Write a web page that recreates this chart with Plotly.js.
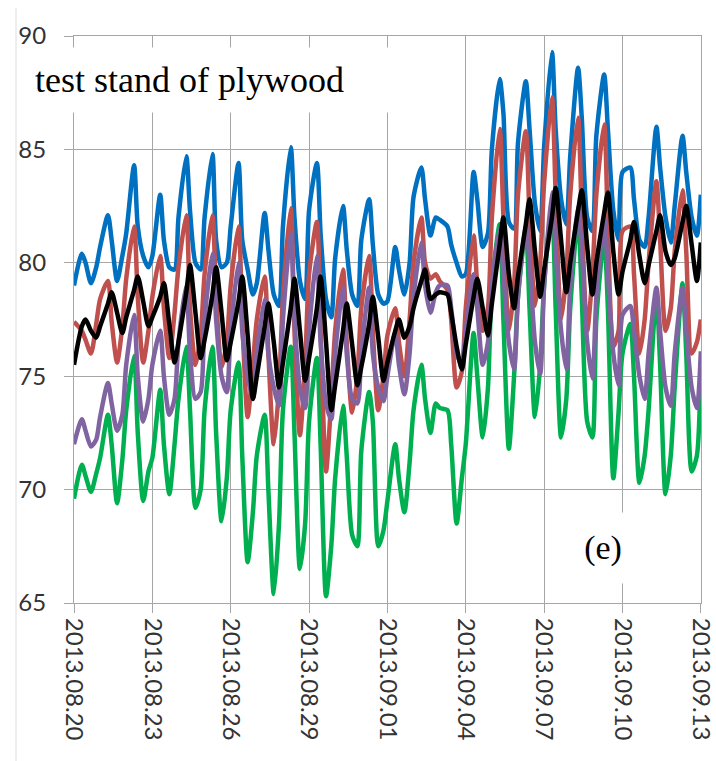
<!DOCTYPE html>
<html>
<head>
<meta charset="utf-8">
<script src="https://cdn.plot.ly/plotly-3.0.1.min.js"></script>
<style>
html, body { margin: 0; padding: 0; background: #fff; }
#chart { width: 716px; height: 761px; }
</style>
</head>
<body>
<div id="chart"></div>
<script>
// ---- data ----
// Each day is sampled at these hours; values are listed day by day.
const START_UTC = Date.UTC(2013, 7, 20);
const SAMPLE_HOURS = [0, 7.2, 10.6, 15.6, 20.4];

const TICK_DATES = ['2013-08-20', '2013-08-23', '2013-08-26', '2013-08-29', '2013-09-01',
                    '2013-09-04', '2013-09-07', '2013-09-10', '2013-09-13'];
const TICK_LABELS = ['2013.08.20', '2013.08.23', '2013.08.26', '2013.08.29', '2013.09.01',
                     '2013.09.04', '2013.09.07', '2013.09.10', '2013.09.13'];
const X_RANGE = ['2013-08-20 00:00', '2013-09-13 00:10'];
const Y_TICKS = [65, 70, 75, 80, 85, 90];

const blueSeries = [
  79.0, 80.4, 80.0, 79.1, 79.8,
  80.7, 82.1, 81.0, 79.2, 80.3,
  81.3, 84.3, 81.6, 80.3, 79.8,
  80.3, 83.0, 81.0, 79.8, 79.7,
  82.0, 84.7, 82.3, 80.0, 79.7,
  82.0, 84.8, 81.0, 79.8, 80.0,
  81.6, 84.4, 81.0, 79.7, 78.6,
  79.1, 82.2, 80.6, 78.6, 78.1,
  81.6, 85.1, 82.0, 79.2, 78.4,
  82.3, 84.4, 81.3, 78.4, 77.6,
  80.2, 82.5, 80.6, 78.6, 78.1,
  81.0, 82.8, 80.8, 78.6, 78.2,
  78.3, 80.7, 79.7, 78.6, 80.0,
  82.9, 84.2, 82.8, 81.2, 82.0,
  81.9, 81.6, 80.8, 80.0, 79.4,
  79.5, 84.0, 82.8, 80.7, 81.3,
  85.0, 88.1, 86.6, 81.8, 81.5,
  85.3, 88.0, 85.9, 82.6, 81.4,
  85.1, 89.3, 85.9, 82.8, 81.7,
  84.7, 88.6, 86.4, 82.0, 81.4,
  85.6, 88.3, 85.9, 82.3, 81.0,
  84.0, 84.2, 82.8, 81.0, 80.7,
  82.0, 86.0, 84.2, 82.0, 80.9,
  82.5, 85.6, 84.0, 82.0, 81.2,
  83.0
];

const redSeries = [
  77.4, 77.0, 76.6, 76.0, 77.3,
  78.4, 79.2, 77.4, 75.6, 77.2,
  79.3, 81.6, 78.5, 75.6, 77.0,
  78.5, 80.3, 78.0, 75.8, 77.8,
  79.8, 82.1, 78.0, 75.5, 76.8,
  79.5, 82.1, 78.5, 75.4, 76.5,
  79.0, 81.6, 77.5, 73.2, 75.5,
  77.5, 79.4, 76.0, 72.0, 74.5,
  78.5, 82.4, 77.0, 72.4, 75.5,
  79.5, 81.8, 77.0, 70.8, 74.0,
  77.0, 79.7, 76.5, 73.4, 75.0,
  78.0, 80.3, 77.0, 73.5, 75.0,
  76.8, 78.0, 76.5, 75.0, 77.5,
  80.0, 82.0, 80.0, 79.3, 79.5,
  79.2, 78.8, 77.5, 74.5, 75.2,
  78.0, 81.2, 79.0, 77.0, 78.0,
  82.0, 85.9, 82.0, 77.0, 79.0,
  83.0, 85.8, 82.0, 78.1, 80.0,
  83.5, 87.3, 83.0, 77.5, 79.5,
  83.0, 86.4, 82.0, 77.0, 79.5,
  83.0, 86.1, 81.5, 76.3, 77.0,
  81.4, 81.6, 79.5, 76.0, 77.5,
  80.0, 83.6, 81.0, 77.0, 78.0,
  80.5, 83.2, 80.5, 76.0, 76.5,
  77.5
];

const purpleSeries = [
  72.0, 73.1, 72.6, 71.9, 72.2,
  73.2, 74.7, 73.8, 72.6, 73.3,
  75.5, 77.7, 75.0, 73.0, 74.0,
  75.5, 77.0, 75.0, 73.3, 74.0,
  76.5, 79.0, 76.0, 74.0, 74.3,
  77.5, 80.4, 77.5, 75.0, 74.3,
  77.0, 80.0, 77.0, 75.0, 74.0,
  76.0, 78.4, 76.0, 74.5, 73.7,
  77.5, 81.3, 77.5, 74.5, 73.6,
  77.0, 80.3, 76.5, 73.8, 73.1,
  76.0, 78.9, 76.0, 74.0, 73.8,
  76.0, 78.9, 76.0, 74.5, 73.9,
  75.0, 76.9, 75.5, 74.2, 76.0,
  78.5, 80.9, 79.0, 77.8, 78.7,
  79.0, 79.0, 78.0, 76.0, 75.5,
  77.0, 79.5, 78.0, 75.5, 76.5,
  79.0, 81.5, 79.5, 76.5, 75.3,
  78.5, 81.7, 80.0, 76.5, 75.1,
  79.0, 83.1, 80.5, 77.0, 75.3,
  79.0, 82.5, 80.5, 76.5, 74.9,
  78.5, 82.0, 79.5, 76.0, 74.6,
  77.7, 78.1, 77.0, 75.0, 74.0,
  76.0, 78.9, 77.0, 74.5, 73.7,
  76.0, 78.9, 77.0, 74.5, 73.6,
  76.1
];

const greenSeries = [
  69.6, 71.1, 70.6, 69.9, 70.7,
  71.4, 73.3, 72.0, 69.4, 71.3,
  73.5, 75.9, 72.5, 69.5, 70.8,
  71.4, 74.4, 72.0, 69.8, 72.0,
  74.0, 76.3, 73.5, 69.2, 70.0,
  73.5, 76.3, 72.5, 68.6, 70.5,
  73.5, 75.6, 71.5, 66.8, 69.0,
  71.5, 73.3, 70.0, 65.4, 68.5,
  73.5, 76.3, 72.5, 66.5, 68.5,
  73.0, 75.8, 72.0, 65.3, 67.5,
  70.5, 73.7, 71.5, 68.0, 67.5,
  71.7, 74.3, 73.0, 67.5, 68.2,
  69.5, 72.0, 70.5, 69.0, 71.2,
  73.5, 75.5, 74.0, 72.5, 73.8,
  73.6, 73.5, 72.0, 68.5, 70.5,
  72.0, 76.9, 75.0, 72.3, 74.5,
  79.0, 81.7, 77.5, 71.8, 75.0,
  78.5, 81.4, 78.0, 73.2, 75.5,
  79.0, 82.5, 78.0, 72.3, 74.0,
  78.0, 82.0, 78.5, 73.0, 72.3,
  77.5, 81.1, 78.0, 70.5, 73.4,
  76.0, 77.3, 75.0, 70.3, 71.5,
  73.5, 78.6, 75.5, 69.8, 71.5,
  74.5, 79.1, 76.0, 70.8, 71.5,
  75.6
];

const blackSeries = [
  75.5, 77.2, 77.5, 77.0, 76.7,
  77.2, 78.2, 78.7, 77.8, 76.9,
  77.6, 78.8, 79.4, 78.3, 77.2,
  77.6, 78.5, 79.1, 77.3, 75.6,
  76.5, 78.7, 79.9, 77.8, 75.8,
  76.6, 78.6, 79.8, 77.8, 75.7,
  76.5, 78.3, 79.4, 76.8, 74.0,
  75.0, 77.2, 78.2, 76.5, 74.5,
  75.6, 78.0, 79.3, 77.0, 74.8,
  75.8, 78.0, 79.4, 76.5, 73.5,
  74.6, 77.0, 78.2, 76.4, 74.6,
  75.4, 77.3, 78.5, 76.7, 74.8,
  75.6, 77.0, 77.5, 76.7, 77.2,
  78.0, 79.2, 79.7, 78.4, 78.6,
  78.7, 78.6, 77.8, 76.3, 75.3,
  76.4, 78.5, 79.3, 78.0, 76.8,
  78.2, 80.8, 82.0, 79.5, 78.0,
  79.4, 81.7, 82.8, 80.5, 78.5,
  79.7, 82.0, 83.3, 81.0, 78.7,
  80.0, 82.3, 83.2, 80.7, 78.6,
  80.0, 82.2, 83.1, 80.5, 78.6,
  79.6, 81.0, 81.8, 80.3, 79.1,
  79.9, 81.4, 82.1, 80.5, 79.9,
  80.2, 81.8, 82.5, 80.8, 79.2,
  80.9
];

// ---- time stamps for the samples ----
function sampleTimes(n) {
  const out = [];
  for (let i = 0; i < n; i++) {
    const day = Math.floor(i / SAMPLE_HOURS.length);
    const h = SAMPLE_HOURS[i % SAMPLE_HOURS.length];
    const t = new Date(START_UTC + (day * 24 + h) * 3600e3);
    out.push(t.toISOString().slice(0, 19).replace('T', ' '));
  }
  return out;
}

const GRID = '#a6a6a6';
function line(y, color) {
  return {
    type: 'scatter', mode: 'lines',
    x: sampleTimes(y.length), y: y,
    line: { color: color, width: 4.5, shape: 'spline', smoothing: 0.7 },
    hoverinfo: 'skip', showlegend: false
  };
}

const traces = [
  line(blueSeries, '#0070C0'),
  line(greenSeries, '#00B050'),
  line(redSeries, '#C0504D'),
  line(purpleSeries, '#8064A2'),
  line(blackSeries, '#000000')
];

const tickFont = { family: 'Lato, "Open Sans", sans-serif', size: 24, color: '#333333' };

const layout = {
  width: 716, height: 761,
  margin: { l: 74, r: 15, t: 36, b: 158, pad: 0 },
  paper_bgcolor: '#ffffff', plot_bgcolor: '#ffffff',
  showlegend: false,
  xaxis: {
    type: 'date',
    range: X_RANGE,
    tickmode: 'array', tickvals: TICK_DATES, ticktext: TICK_LABELS,
    tickangle: 90, tickfont: tickFont, ticklabeloverflow: 'allow',
    showgrid: true, gridcolor: GRID, gridwidth: 1,
    ticks: 'outside', ticklen: 9, tickcolor: GRID, tickwidth: 1,
    showline: true, mirror: true, linecolor: GRID, linewidth: 1,
    zeroline: false, fixedrange: true
  },
  yaxis: {
    range: [65, 90],
    tickmode: 'array', tickvals: Y_TICKS, ticktext: Y_TICKS.map(String),
    tickfont: tickFont,
    showgrid: true, gridcolor: GRID, gridwidth: 1,
    ticks: 'outside', ticklen: 9, tickcolor: GRID, tickwidth: 1,
    ticklabelstandoff: 13,
    showline: true, mirror: true, linecolor: GRID, linewidth: 1,
    zeroline: false, fixedrange: true
  },
  shapes: [
    { type: 'line', xref: 'paper', yref: 'paper',
      x0: -0.0925, x1: -0.0925, y0: 1.049, y1: -0.28,
      line: { color: '#dcdcdc', width: 1 } }
  ],
  annotations: [
    { text: 'test stand of plywood', xref: 'paper', yref: 'paper',
      x: -0.064, xanchor: 'left', y: 0.922, yanchor: 'middle',
      width: 362, height: 64, align: 'left', valign: 'middle',
      bgcolor: '#ffffff', borderpad: 0, showarrow: false,
      font: { family: '"Liberation Serif", "Times New Roman", serif', size: 36, color: '#000' } },
    { text: '(e)', xref: 'paper', yref: 'paper',
      x: 0.843, xanchor: 'center', y: 0.097, yanchor: 'middle',
      width: 70, height: 70, align: 'center', valign: 'middle',
      bgcolor: '#ffffff', borderpad: 0, showarrow: false,
      font: { family: '"Liberation Serif", "Times New Roman", serif', size: 34, color: '#000' } }
  ]
};

Plotly.newPlot('chart', traces, layout, { displayModeBar: false, staticPlot: true });
</script>
</body>
</html>
